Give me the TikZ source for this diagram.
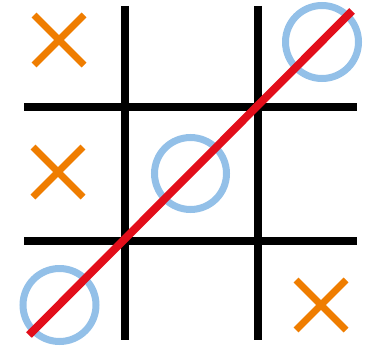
\documentclass[tikz,border=0pt]{standalone}
\definecolor{xorange}{HTML}{EF7D00}
\definecolor{oblue}{HTML}{93C0E8}
\definecolor{winred}{HTML}{E20E1A}
\begin{document}
\begin{tikzpicture}[x=1pt,y=-1pt,
  gridline/.style={line width=8pt,black},
  xmark/.style={line width=7pt,xorange},
  omark/.style={line width=7pt,oblue},
  winline/.style={line width=8pt,winred}]
\useasboundingbox (0,0) rectangle (371,345);
% grid
\draw[gridline] (124.5,6) -- (124.5,340);
\draw[gridline] (257.5,6) -- (257.5,340);
\draw[gridline] (24,107) -- (357,107);
\draw[gridline] (24,240.5) -- (357,240.5);
% crosses
\foreach \cx/\cy in {59/40, 58/172, 321/305}{
  \draw[xmark] (\cx-25,\cy-25) -- (\cx+25,\cy+25);
  \draw[xmark] (\cx-25,\cy+25) -- (\cx+25,\cy-25);
}
% noughts
\draw[omark] (322,42) circle (36.5);
\draw[omark] (190.5,173.5) circle (36);
\draw[omark] (59.5,305) circle (36.5);
% winning line
\coordinate (ws) at (29,335);
\coordinate (we) at (352,11);
\draw[winline] (ws) -- (we);
\end{tikzpicture}
\end{document}
